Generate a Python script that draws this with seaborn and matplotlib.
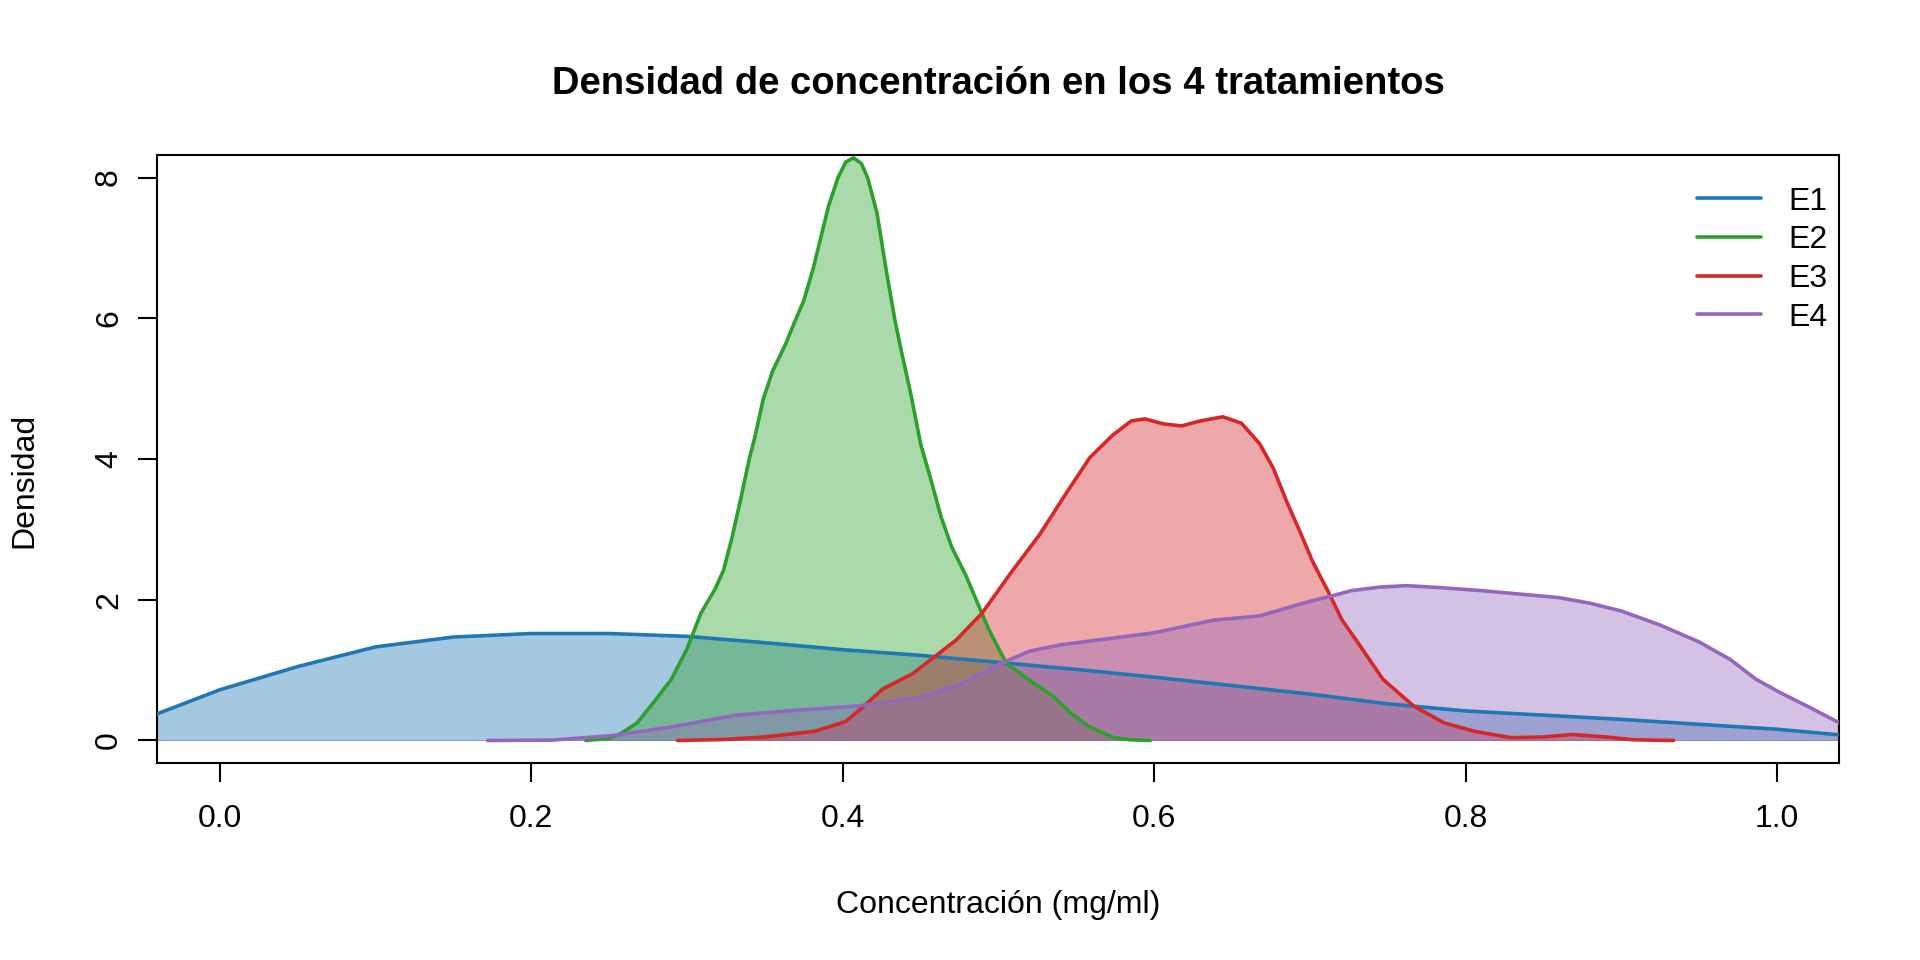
import pandas as pd
import numpy as np
import matplotlib
matplotlib.use("Agg")
import matplotlib.pyplot as plt
import seaborn as sns

sns.set_style("ticks")
plt.rcParams['font.family'] = ['Liberation Sans', 'DejaVu Sans']
plt.rcParams['text.color'] = 'black'
plt.rcParams['axes.labelcolor'] = 'black'
plt.rcParams['xtick.color'] = 'black'
plt.rcParams['ytick.color'] = 'black'

# density curves
e1_x = [-0.04, 0.0, 0.05, 0.10, 0.15, 0.20, 0.25, 0.30, 0.35, 0.40, 0.45, 0.50,
        0.55, 0.60, 0.65, 0.70, 0.75, 0.80, 0.85, 0.90, 0.95, 1.00, 1.04]
e1_y = [0.38, 0.72, 1.05, 1.33, 1.47, 1.52, 1.52, 1.48, 1.39, 1.29, 1.21, 1.11,
        1.01, 0.90, 0.78, 0.66, 0.52, 0.42, 0.36, 0.30, 0.23, 0.16, 0.08]

e2_x = [0.235, 0.250, 0.257, 0.268, 0.280, 0.290, 0.300, 0.309, 0.318, 0.3235,
        0.329, 0.335, 0.340, 0.3436, 0.349, 0.355, 0.3635, 0.369, 0.375, 0.381,
        0.386, 0.391, 0.397, 0.402, 0.407, 0.412, 0.416, 0.422, 0.428, 0.4335,
        0.438, 0.444, 0.450, 0.457, 0.463, 0.470, 0.479, 0.4865, 0.494, 0.505,
        0.519, 0.535, 0.5465, 0.558, 0.574, 0.585, 0.5975]
e2_y = [0.0, 0.03, 0.09, 0.25, 0.58, 0.87, 1.30, 1.81, 2.15, 2.42,
        2.89, 3.48, 4.00, 4.31, 4.85, 5.25, 5.64, 5.94, 6.25, 6.70,
        7.15, 7.60, 8.00, 8.22, 8.28, 8.20, 8.00, 7.50, 6.68, 5.98,
        5.50, 4.90, 4.22, 3.68, 3.19, 2.75, 2.35, 1.96, 1.57, 1.10,
        0.87, 0.63, 0.39, 0.20, 0.04, 0.01, 0.0]

e3_x = [0.294, 0.3234, 0.350, 0.382, 0.402, 0.4138, 0.4256, 0.445, 0.473, 0.4895,
        0.5086, 0.5263, 0.544, 0.5587, 0.5734, 0.5852, 0.594, 0.6058, 0.6176,
        0.6294, 0.6441, 0.656, 0.6677, 0.6765, 0.6854, 0.6942, 0.7016, 0.7119,
        0.7207, 0.7296, 0.7469, 0.7666, 0.7862, 0.8058, 0.8293, 0.850, 0.8687,
        0.890, 0.908, 0.9335]
e3_y = [0.0, 0.014, 0.05, 0.13, 0.27, 0.49, 0.73, 0.95, 1.43, 1.81,
        2.40, 2.92, 3.53, 4.02, 4.34, 4.54, 4.57, 4.50, 4.47,
        4.54, 4.60, 4.51, 4.22, 3.87, 3.38, 2.94, 2.55, 2.11,
        1.71, 1.43, 0.87, 0.49, 0.25, 0.13, 0.04, 0.05, 0.085,
        0.05, 0.01, 0.0]

e4_x = [0.172, 0.213, 0.2527, 0.292, 0.331, 0.3705, 0.41, 0.449, 0.476, 0.50,
        0.52, 0.54, 0.5646, 0.60, 0.638, 0.6677, 0.697, 0.715, 0.7267, 0.745,
        0.762, 0.7855, 0.81, 0.835, 0.86, 0.88, 0.90, 0.925, 0.95, 0.97,
        0.9865, 1.002, 1.021, 1.04]
e4_y = [0.0, 0.005, 0.07, 0.20, 0.36, 0.43, 0.49, 0.61, 0.80, 1.08,
        1.27, 1.36, 1.43, 1.53, 1.71, 1.77, 1.96, 2.06, 2.13, 2.18,
        2.20, 2.17, 2.13, 2.08, 2.03, 1.95, 1.84, 1.64, 1.40, 1.15,
        0.87, 0.68, 0.47, 0.25]

series = ['E1', 'E2', 'E3', 'E4']
colors = ['#1f77b4', '#2ca02c', '#d62728', '#9467bd']

frames = []
for name, xs, ys in zip(series, [e1_x, e2_x, e3_x, e4_x], [e1_y, e2_y, e3_y, e4_y]):
    frames.append(pd.DataFrame({'conc': xs, 'dens': ys, 'trat': name}))
df = pd.concat(frames, ignore_index=True)
palette = dict(zip(series, colors))

fig = plt.figure(figsize=(19.2, 9.6), dpi=100)
ax = fig.add_axes([0.082, 0.2052, 0.876, 0.6333])

ax.axhline(0, color='#bebebe', lw=0.8, zorder=1)
for name in series:
    sub = df[df['trat'] == name]
    ax.fill_between(sub['conc'], 0, sub['dens'], color=palette[name], alpha=0.4,
                    lw=0, zorder=2)

sns.lineplot(data=df, x='conc', y='dens', hue='trat', palette=palette,
             estimator=None, sort=False, lw=2.6, ax=ax, zorder=3)

ax.set_xlim(-0.04, 1.04)
ax.set_ylim(-0.32, 8.32)
ax.set_xticks([0.0, 0.2, 0.4, 0.6, 0.8, 1.0])
ax.set_xticklabels(['0.0', '0.2', '0.4', '0.6', '0.8', '1.0'])
ax.set_yticks([0, 2, 4, 6, 8])
ax.set_yticklabels(['0', '2', '4', '6', '8'], rotation=90, va='center')
ax.set_xlabel('')
ax.set_ylabel('')
ax.tick_params(axis='x', length=13.5, width=1.5, pad=16, labelsize=23)
ax.tick_params(axis='y', length=13.5, width=1.5, pad=10.5, labelsize=23)
for sp in ax.spines.values():
    sp.set_visible(True)
    sp.set_linewidth(1.5)
    sp.set_color('black')

handles, labels = ax.get_legend_handles_labels()
ax.legend(handles, labels, loc='upper right', bbox_to_anchor=(0.993, 0.948),
          frameon=False, fontsize=23, handlelength=2.0, handletextpad=0.85,
          labelspacing=0.27, borderpad=0, borderaxespad=0)

fig.text(0.52, 0.913, 'Densidad de concentración en los 4 tratamientos',
         ha='center', va='center', fontsize=27.5, fontweight='bold')
fig.text(0.52, 0.0575, 'Concentración (mg/ml)', ha='center', va='center', fontsize=23)
fig.text(0.0128, 0.5, 'Densidad', ha='center', va='center', rotation=90, fontsize=23)

fig.savefig('out.png', dpi=100)
plt.close(fig)
